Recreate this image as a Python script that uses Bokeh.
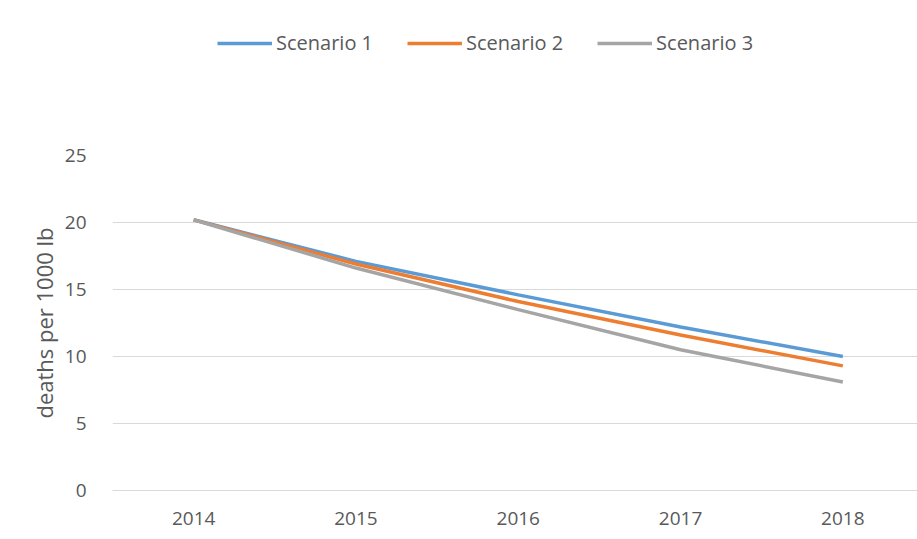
from bokeh.plotting import figure
from bokeh.layouts import column
from bokeh.models import Legend, LegendItem, FixedTicker, Range1d
from bokeh.embed import file_html
from bokeh.resources import INLINE

years = [2014, 2015, 2016, 2017, 2018]
scenario1 = [20.2, 17.1, 14.6, 12.2, 10.0]
scenario2 = [20.2, 16.9, 14.1, 11.6, 9.3]
scenario3 = [20.2, 16.6, 13.5, 10.5, 8.1]
series_names = ["Scenario 1", "Scenario 2", "Scenario 3"]
series_colors = ["#5B9BD5", "#ED7D31", "#A5A5A5"]
y_ticks = [0, 5, 10, 15, 20, 25]

FONT = "Open Sans"
TXT = "#595959"
LW = 3.5

# ---- main chart ----
p = figure(width=917, height=459, output_backend="svg", toolbar_location=None,
           x_range=Range1d(2013.5, 2018.46), y_range=Range1d(0, 25))
p.min_border_left = 112
p.min_border_right = 0
p.min_border_top = 75
p.min_border_bottom = 49
p.outline_line_color = None
p.background_fill_color = "white"

for vals, c in zip([scenario1, scenario2, scenario3], series_colors):
    p.line(years, vals, line_color=c, line_width=LW)

p.xgrid.grid_line_color = None
p.ygrid.grid_line_color = "#D9D9D9"
p.ygrid.grid_line_width = 1

p.xaxis.ticker = FixedTicker(ticks=years)
p.yaxis.ticker = FixedTicker(ticks=y_ticks)
for ax in (p.xaxis[0], p.yaxis[0]):
    ax.major_tick_line_color = None
    ax.minor_tick_line_color = None
    ax.major_label_text_font = FONT
    ax.major_label_text_font_size = "19px"
    ax.major_label_text_color = TXT
p.xaxis.axis_line_color = "#D9D9D9"
p.yaxis.axis_line_color = None
p.xaxis.major_label_standoff = 15
p.yaxis.major_label_standoff = 20
p.yaxis.axis_label = "deaths per 1000 lb"
p.yaxis.axis_label_text_font = FONT
p.yaxis.axis_label_text_font_size = "22px"
p.yaxis.axis_label_text_font_style = "normal"
p.yaxis.axis_label_text_color = TXT
p.yaxis.axis_label_standoff = 3

# ---- legend strip on top (frame aligned with main chart by the column) ----
top = figure(width=917, height=80, output_backend="svg", toolbar_location=None,
             x_range=Range1d(0, 1), y_range=Range1d(0, 1))
top.min_border_left = 112
top.min_border_right = 0
top.min_border_top = 0
top.min_border_bottom = 0
top.outline_line_color = None
top.xaxis.visible = False
top.yaxis.visible = False
top.grid.visible = False
# legend-only renderers: data kept outside the visible range
leg_r = [top.line([5, 6], [5, 6], line_color=c, line_width=LW) for c in series_colors]
legend = Legend(items=[LegendItem(label=n, renderers=[r]) for n, r in zip(series_names, leg_r)],
                orientation="horizontal", location=(105, 24),
                glyph_width=55, glyph_height=26, label_standoff=4, spacing=34,
                padding=0, margin=0, border_line_color=None,
                background_fill_alpha=0,
                label_text_font=FONT, label_text_font_size="20px",
                label_text_color=TXT)
top.add_layout(legend, "center")

layout = column(top, p, spacing=0)
open("out.html", "w").write(file_html(layout, INLINE))
